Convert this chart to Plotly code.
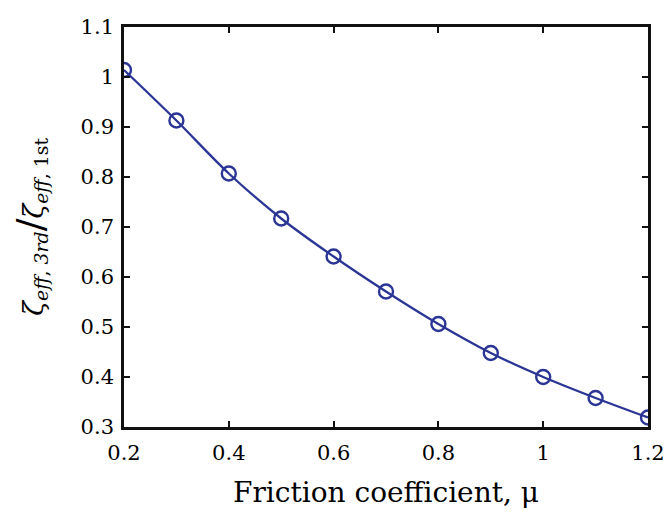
import plotly.graph_objects as go

mu = [0.2, 0.3, 0.4, 0.5, 0.6, 0.7, 0.8, 0.9, 1.0, 1.1, 1.2]
ratio = [1.014, 0.913, 0.807, 0.717, 0.641, 0.571, 0.506, 0.448, 0.400, 0.358, 0.319]
x_ticks = [0.2, 0.4, 0.6, 0.8, 1.0, 1.2]
x_ticklabels = ["0.2", "0.4", "0.6", "0.8", "1", "1.2"]
y_ticks = [0.3, 0.4, 0.5, 0.6, 0.7, 0.8, 0.9, 1.0, 1.1]
y_ticklabels = ["0.3", "0.4", "0.5", "0.6", "0.7", "0.8", "0.9", "1", "1.1"]

color = "#2b3595"
font = "DejaVu Serif"

fig = go.Figure()
fig.add_trace(go.Scatter(
    x=mu, y=ratio, mode="lines+markers",
    line=dict(color=color, width=2.3, shape="spline"),
    marker=dict(symbol="circle-open", size=14, color=color, line=dict(width=2.4, color=color)),
    showlegend=False,
))

axis_common = dict(
    showline=True, linecolor="#111111", linewidth=2.6, mirror="ticks",
    ticks="inside", ticklen=6, tickwidth=1.8, tickcolor="#111111",
    showgrid=False, zeroline=False, ticklabeloverflow="allow",
    tickfont=dict(family=font, size=21, color="black"),
)

# body has an 8px default margin in the page; figure sized to compensate
fig.update_layout(
    width=664, height=512,
    margin=dict(l=116, r=24, t=7, b=93),
    paper_bgcolor="white", plot_bgcolor="white",
    xaxis=dict(range=[0.2, 1.2], tickvals=x_ticks, ticktext=x_ticklabels, ticklabelstandoff=5,
               title=dict(text="Friction coefficient, μ", font=dict(family=font, size=28, color="black"), standoff=19),
               **axis_common),
    yaxis=dict(range=[0.3, 1.1], tickvals=y_ticks, ticktext=y_ticklabels, ticklabelstandoff=3,
               **axis_common),
)

fig.add_annotation(
    text="<i>ζ</i><sub><i>eff</i>, <i>3rd</i></sub><span style='font-size:38px'>/</span><i>ζ</i><sub><i>eff</i>, 1st</sub>",
    xref="paper", yref="paper", x=-0.18, y=0.50, xanchor="center", yanchor="middle",
    textangle=-90, showarrow=False,
    font=dict(family=font, size=27, color="black"),
)

fig.write_html("out.html")
